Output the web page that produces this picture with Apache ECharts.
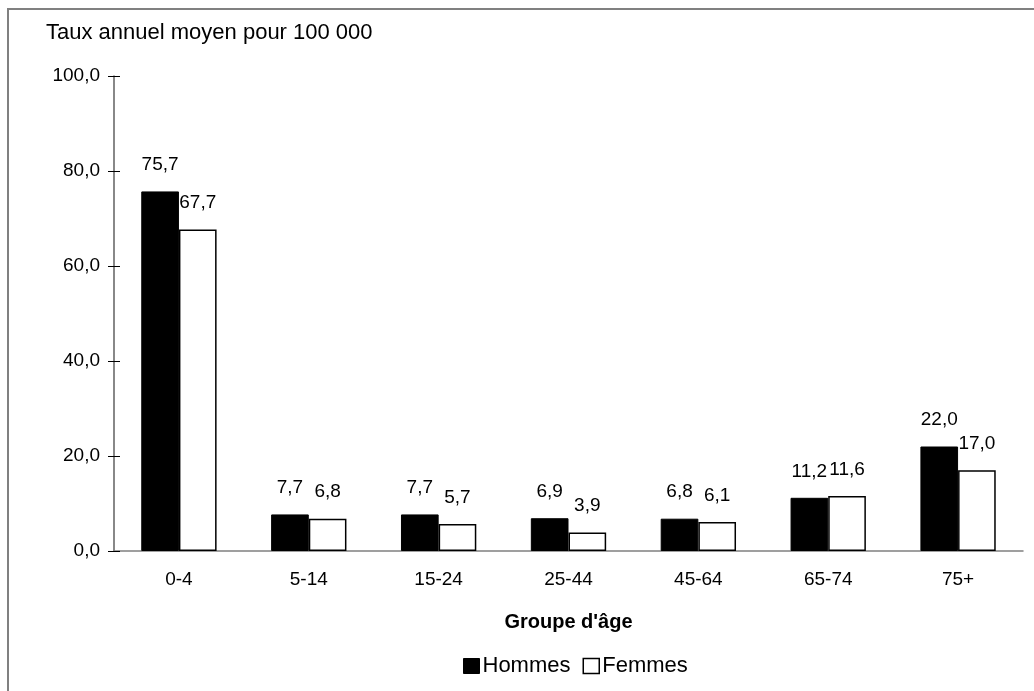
<!DOCTYPE html>
<html>
<head>
<meta charset="utf-8">
<script src="https://cdn.jsdelivr.net/npm/echarts@6/dist/echarts.min.js"></script>
<style>
html,body{margin:0;padding:0;background:#fff;}
#chart{width:1034px;height:691px;}
</style>
</head>
<body>
<div id="chart"></div>
<script>
const categories = ['0-4', '5-14', '15-24', '25-44', '45-64', '65-74', '75+'];
const hommes = [75.7, 7.7, 7.7, 6.9, 6.8, 11.2, 22.0];
const femmes = [67.7, 6.8, 5.7, 3.9, 6.1, 11.6, 17.0];
const yTicks = [0, 20, 40, 60, 80, 100];
const yTitle = 'Taux annuel moyen pour 100 000';
const xTitle = "Groupe d'âge";
const seriesNames = ['Hommes', 'Femmes'];

const FONT = "'Liberation Sans', Arial, sans-serif";
const fmt = v => Number(v).toFixed(1).replace('.', ',');

const chart = echarts.init(document.getElementById('chart'), null, {renderer: 'canvas'});
const yMin = yTicks[0], yMax = yTicks[yTicks.length - 1], yInt = yTicks[1] - yTicks[0];

const labelCfg = {
  show: true, position: 'top', distance: 17,
  fontFamily: FONT, fontSize: 19, color: '#000',
  formatter: p => fmt(p.value)
};

chart.setOption({
  animation: false,
  backgroundColor: '#fff',
  graphic: [
    {type: 'rect', shape: {x: 8, y: 9, width: 1200, height: 1000},
     style: {fill: 'none', stroke: '#808080', lineWidth: 2}, silent: true},
    {type: 'text', x: 46, y: 33,
     style: {text: yTitle, font: '22px ' + FONT, fill: '#000', textVerticalAlign: 'middle'}}
  ],
  legend: {
    left: 458, top: 650,
    itemWidth: 16, itemHeight: 15, itemGap: 12,
    textStyle: {fontFamily: FONT, fontSize: 22, color: '#000', padding: [0, 0, 0, -2]},
    data: [
      {name: seriesNames[0], icon: 'rect', itemStyle: {color: '#000', borderColor: '#000', borderWidth: 1}},
      {name: seriesNames[1], icon: 'rect', itemStyle: {color: '#fff', borderColor: '#000', borderWidth: 1.5}}
    ]
  },
  grid: {left: 114, right: 11, top: 76, bottom: 140},
  xAxis: {
    type: 'category', data: categories,
    axisLine: {lineStyle: {color: '#808080', width: 1.5}},
    axisTick: {show: false},
    axisLabel: {fontFamily: FONT, fontSize: 19, color: '#000', margin: 19},
    name: xTitle, nameLocation: 'middle', nameGap: 61,
    nameTextStyle: {fontFamily: FONT, fontSize: 20, fontWeight: 'bold', color: '#000'}
  },
  yAxis: [
    {
      type: 'value', min: yMin, max: yMax, interval: yInt,
      axisLine: {show: true, lineStyle: {color: '#606060', width: 1.5}},
      axisTick: {show: true, length: 6, lineStyle: {color: '#000', width: 1}},
      axisLabel: {fontFamily: FONT, fontSize: 19, color: '#000', margin: 14, formatter: v => fmt(v)},
      splitLine: {show: false}
    },
    {
      type: 'value', min: yMin, max: yMax, interval: yInt, position: 'left', offset: 0,
      axisLine: {show: false},
      axisTick: {show: true, inside: true, length: 6, lineStyle: {color: '#000', width: 1}},
      axisLabel: {show: false},
      splitLine: {show: false}
    }
  ],
  series: [
    {
      name: seriesNames[0], type: 'bar', data: hommes,
      barGap: '0%', barCategoryGap: '42%',
      itemStyle: {color: '#000', borderColor: '#000', borderWidth: 1},
      label: labelCfg
    },
    {
      name: seriesNames[1], type: 'bar', data: femmes,
      barGap: '0%', barCategoryGap: '42%',
      itemStyle: {color: '#fff', borderColor: '#000', borderWidth: 1.5},
      label: labelCfg
    }
  ]
});
</script>
</body>
</html>
